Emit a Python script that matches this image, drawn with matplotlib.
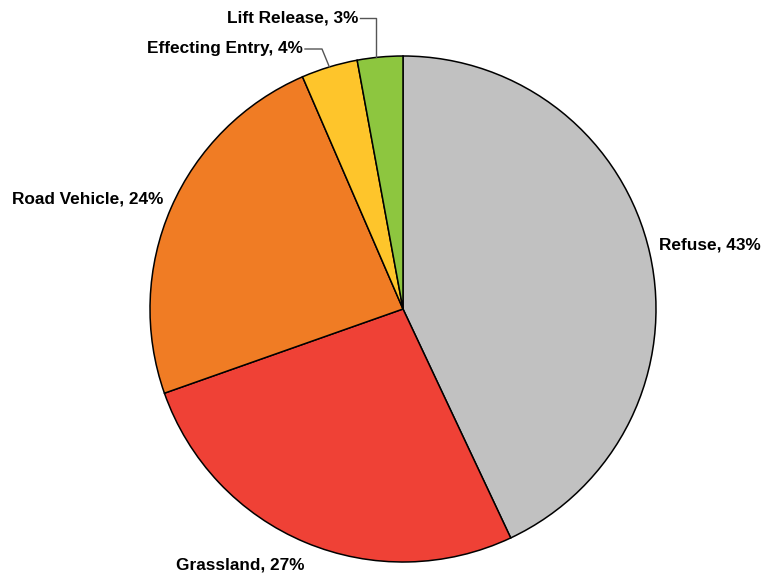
import numpy as np
import matplotlib
matplotlib.use("Agg")
import matplotlib.pyplot as plt

# Share of incidents by cause (percent)
categories = ["Refuse", "Grassland", "Road Vehicle", "Effecting Entry", "Lift Release"]
shares = [43.0, 26.6, 23.9, 3.6, 2.9]
colors = ["#c1c1c1", "#ef4136", "#f07c24", "#fec52b", "#8dc63f"]

plt.rcParams["font.family"] = ["Liberation Sans", "DejaVu Sans"]

W, H, DPI = 762, 579, 100
fig = plt.figure(figsize=(W / DPI, H / DPI), dpi=DPI)
ax = fig.add_axes([0, 0, 1, 1])

# pixel geometry of the pie
cx, cy, R = 403.0, 309.0, 253.0

wedges, _ = ax.pie(shares, colors=colors, startangle=90, counterclock=False,
                   radius=1.0, center=(0, 0), frame=True,
                   wedgeprops=dict(edgecolor="black", linewidth=1.1))
ax.set_xlim(-cx / R, (W - cx) / R)
ax.set_ylim(-(H - cy) / R, cy / R)
ax.set_aspect("auto")
ax.axis("off")

labels = [f"{c}, {v:.0f}%" for c, v in zip(categories, shares)]

def px(x, y):
    return ((x - cx) / R, (cy - y) / R)

# label anchors (pixel positions) and alignment
placements = [
    (px(659, 245), "left"),
    (px(240, 565), "center"),
    (px(163, 199), "right"),
    (px(303, 48), "right"),
    (px(358, 18), "right"),
]
for lab, (xy, ha) in zip(labels, placements):
    ax.text(xy[0], xy[1], lab, ha=ha, va="center", fontsize=12.4,
            fontweight="bold", color="black")

# leader lines for the two small slices
cum = np.cumsum([0] + shares)
total = sum(shares)

# Effecting Entry: short horizontal run, then toward the slice middle
mid = (cum[3] + cum[4]) / 2 / total * 2 * np.pi
s, e = px(305, 49), px(322, 49)
ax.plot([s[0], e[0], np.sin(mid)], [s[1], e[1], np.cos(mid)],
        color="#555555", lw=1.0)

# Lift Release: horizontal run, then straight down to the rim
s, e = px(360, 18), px(376, 18)
ax.plot([s[0], e[0], e[0]], [s[1], e[1], np.sqrt(1 - e[0] ** 2)],
        color="#555555", lw=1.0)

fig.savefig("out.png", dpi=DPI, facecolor="white")
